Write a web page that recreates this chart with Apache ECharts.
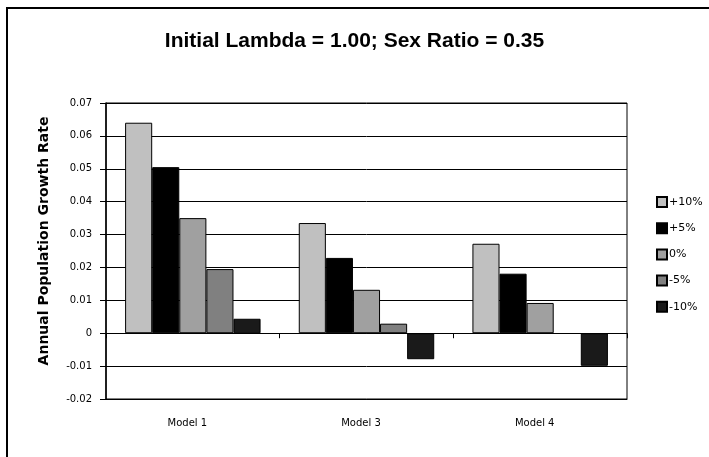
<!DOCTYPE html>
<html>
<head>
<meta charset="utf-8">
<script src="https://cdn.jsdelivr.net/npm/echarts@6/dist/echarts.min.js"></script>
<style>html,body{margin:0;padding:0;background:#fff;}#c{width:709px;height:457px;}</style>
</head>
<body>
<div id="c"></div>
<script>
const categories = ['Model 1', 'Model 3', 'Model 4'];
const seriesNames = ['+10%', '+5%', '0%', '-5%', '-10%'];
const plus10 = [0.064, 0.0335, 0.0272];
const plus5 = [0.0505, 0.0229, 0.0181];
const zero = [0.035, 0.0132, 0.0092];
const minus5 = [0.0195, 0.0029, '-'];
const minus10 = [0.0044, -0.0079, -0.0099];
const seriesValues = [plus10, plus5, zero, minus5, minus10];
const colors = ['#c0c0c0', '#000000', '#a0a0a0', '#808080', '#1a1a1a'];
const yTicks = { min: -0.02, max: 0.07, interval: 0.01 };

const chart = echarts.init(document.getElementById('c'), null, { renderer: 'canvas' });
const font = 'DejaVu Sans, Arial, sans-serif';
chart.setOption({
  backgroundColor: '#fff',
  animation: false,
  title: {
    text: 'Initial Lambda = 1.00; Sex Ratio = 0.35',
    left: 'center', top: 26,
    textStyle: { fontFamily: 'Liberation Sans, Arial, sans-serif', fontSize: 21, fontWeight: 'bold', color: '#000' }
  },
  graphic: [
    { type: 'line', shape: { x1: 7, y1: 8, x2: 709, y2: 8 }, style: { stroke: '#000', lineWidth: 2 } },
    { type: 'line', shape: { x1: 7, y1: 7, x2: 7, y2: 457 }, style: { stroke: '#000', lineWidth: 2 } }
  ],
  grid: { left: 106, right: 82, top: 103, bottom: 58, show: true, borderColor: '#000', borderWidth: 1 },
  legend: {
    orient: 'vertical', left: 651, top: 191, itemWidth: 10, itemHeight: 10, itemGap: 14.2,
    icon: 'rect',
    textStyle: { fontFamily: font, fontSize: 11, color: '#000', padding: [0, 0, 0, -3] },
    data: seriesNames
  },
  xAxis: [
    {
      type: 'category', data: categories, position: 'bottom',
      axisLine: { onZero: false, lineStyle: { color: '#000', width: 1 } },
      axisTick: { show: false },
      axisLabel: { fontFamily: font, fontSize: 10, color: '#000', margin: 19, padding: [0, 11, 0, 0] }
    },
    {
      type: 'category', data: categories, position: 'top',
      axisLine: { onZero: true, lineStyle: { color: '#000', width: 1 } },
      axisTick: { show: true, inside: true, length: 5, lineStyle: { color: '#000' } },
      axisLabel: { show: false }
    }
  ],
  yAxis: {
    type: 'value', min: yTicks.min, max: yTicks.max, interval: yTicks.interval,
    name: 'Annual Population Growth Rate', nameLocation: 'middle', nameGap: 55,
    nameTextStyle: { fontFamily: font, fontSize: 14, fontWeight: 'bold', color: '#000', padding: [0, 0, 0, 20] },
    axisLine: { show: true, lineStyle: { color: '#000', width: 1.5 } },
    axisTick: { show: true, length: 6, lineStyle: { color: '#000' } },
    axisLabel: {
      fontFamily: font, fontSize: 10, color: '#000', margin: 14,
      formatter: v => Math.abs(v) < 1e-9 ? '0' : v.toFixed(2)
    },
    splitLine: { show: true, lineStyle: { color: '#000', width: 1 } }
  },
  series: seriesNames.map((n, i) => ({
    name: n, type: 'bar', xAxisIndex: 0, data: seriesValues[i],
    barGap: '0%', barCategoryGap: '22%',
    itemStyle: { color: colors[i], borderColor: '#000', borderWidth: 1 }
  }))
});
</script>
</body>
</html>
